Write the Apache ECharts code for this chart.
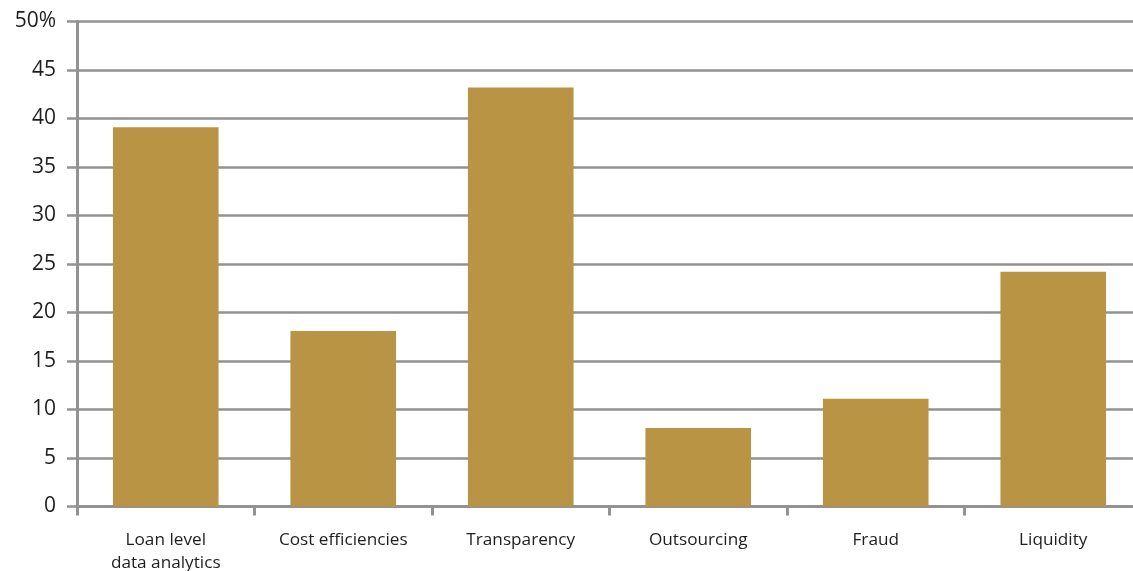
<!DOCTYPE html>
<html lang="en">
<head>
    <meta charset="UTF-8">
    <title>Chart</title>
    <script src="https://cdn.jsdelivr.net/npm/echarts@6/dist/echarts.min.js"></script>
    <style>
        *{
            padding:0;
            margin:0;
        }
        html,body{
            height:100%;
            background:#fff;
        }
        #main{
            width:1133px;
            height:571px;
        }
    </style>
</head>
<body>
<div id="main"></div>
<script>
    var categories=['Loan level\ndata analytics','Cost efficiencies','Transparency','Outsourcing','Fraud','Liquidity'];
    var values=[39.1,18.1,43.2,8.1,11.1,24.2];
    var yTicks=[0,5,10,15,20,25,30,35,40,45,50];

    var lineColor='#929292';
    var myChart=echarts.init(document.getElementById('main'));
    var option={
        animation:false,
        grid:{
            left:77,
            top:21.5,
            width:1065,
            height:485,
            containLabel:false,
            outerBoundsMode:'none'
        },
        xAxis:{
            type:'category',
            data:categories,
            axisLine:{
                lineStyle:{color:lineColor,width:3}
            },
            axisTick:{
                show:true,
                length:9,
                lineStyle:{color:lineColor,width:3}
            },
            axisLabel:{
                margin:22,
                color:'#1e1e1e',
                fontFamily:'Open Sans',
                fontSize:17.2,
                lineHeight:23
            }
        },
        yAxis:{
            type:'value',
            min:yTicks[0],
            max:yTicks[yTicks.length-1],
            interval:5,
            axisLine:{
                show:true,
                lineStyle:{color:lineColor,width:3}
            },
            axisTick:{
                show:true,
                length:10,
                lineStyle:{color:lineColor,width:2.5}
            },
            splitLine:{
                lineStyle:{color:lineColor,width:2.5}
            },
            axisLabel:{
                margin:21,
                color:'#1e1e1e',
                fontFamily:'Open Sans',
                fontSize:21,
                formatter:function(v){
                    return v===50?'50%':v;
                }
            }
        },
        series:[
            {
                type:'bar',
                data:values,
                barWidth:'59.5%',
                itemStyle:{
                    color:'#b89444'
                }
            }
        ]
    };
    myChart.setOption(option);
</script>
</body>
</html>
